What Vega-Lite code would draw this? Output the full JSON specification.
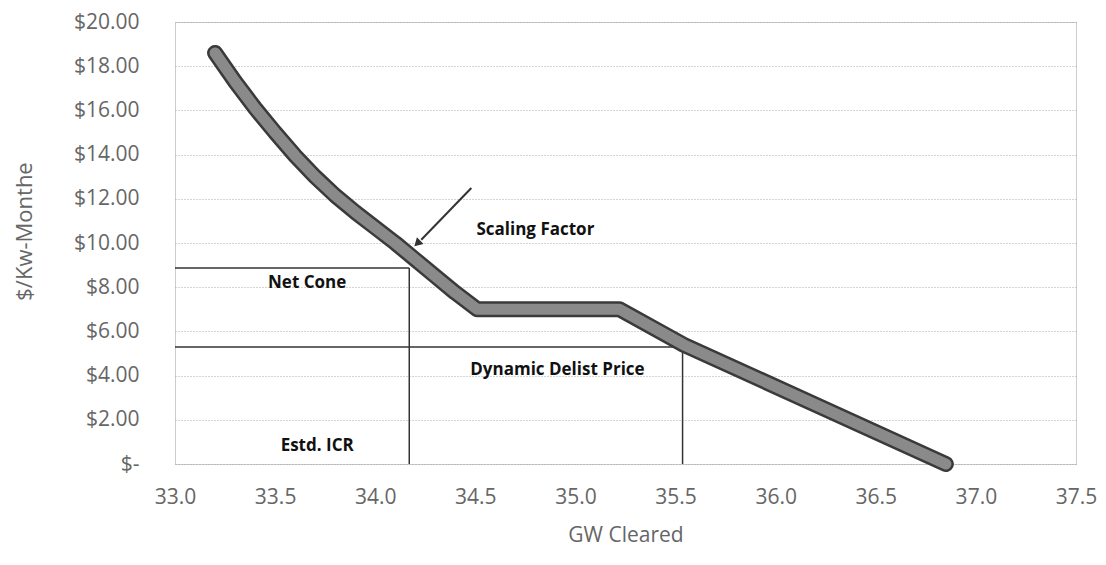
{
  "$schema": "https://vega.github.io/schema/vega-lite/v6.json",
  "width": 901,
  "height": 442,
  "autosize": {"type": "none"},
  "padding": {"left": 175, "top": 22, "right": 30, "bottom": 101},
  "background": "white",
  "config": {
    "view": {"stroke": "#9a9a9a", "strokeDash": [1, 1], "strokeWidth": 1},
    "font": "Open Sans"
  },
  "datasets": {
    "curve": [
      {"o": 1, "gw": 33.2, "p": 18.6},
      {"o": 2, "gw": 33.3, "p": 17.3},
      {"o": 3, "gw": 33.4, "p": 16.1},
      {"o": 4, "gw": 33.5, "p": 15.0},
      {"o": 5, "gw": 33.6, "p": 13.95},
      {"o": 6, "gw": 33.7, "p": 13.0},
      {"o": 7, "gw": 33.8, "p": 12.15},
      {"o": 8, "gw": 33.9, "p": 11.4},
      {"o": 9, "gw": 34.0, "p": 10.7},
      {"o": 10, "gw": 34.1, "p": 10.0},
      {"o": 11, "gw": 34.2, "p": 9.25},
      {"o": 12, "gw": 34.3, "p": 8.5},
      {"o": 13, "gw": 34.4, "p": 7.75},
      {"o": 14, "gw": 34.51, "p": 7.0},
      {"o": 15, "gw": 35.22, "p": 7.0},
      {"o": 16, "gw": 35.54, "p": 5.4},
      {"o": 17, "gw": 36.85, "p": 0.0}
    ],
    "refs": [
      {"x": 33.0, "y": 8.87, "x2": 34.17, "y2": 8.87},
      {"x": 34.17, "y": 0, "x2": 34.17, "y2": 8.87},
      {"x": 33.0, "y": 5.29, "x2": 35.535, "y2": 5.29},
      {"x": 35.535, "y": 0, "x2": 35.535, "y2": 5.29}
    ],
    "arrow": [
      {"x": 34.48, "y": 12.49, "x2": 34.23, "y2": 10.15}
    ],
    "arrowhead": [
      {"x": 34.215, "y": 10.02}
    ],
    "labels": [
      {"x": 34.80, "y": 10.59, "t": "Scaling Factor"},
      {"x": 33.66, "y": 8.19, "t": "Net Cone"},
      {"x": 34.91, "y": 4.25, "t": "Dynamic Delist Price"},
      {"x": 33.71, "y": 0.81, "t": "Estd. ICR"}
    ]
  },
  "encoding": {
    "x": {
      "type": "quantitative",
      "scale": {"domain": [33, 37.5], "nice": false, "zero": false},
      "axis": {
        "title": "GW Cleared",
        "values": [33, 33.5, 34, 34.5, 35, 35.5, 36, 36.5, 37, 37.5],
        "format": ".1f",
        "grid": false,
        "domain": false,
        "ticks": false,
        "labelFlush": false,
        "labelOverlap": false,
        "labelPadding": 22,
        "labelFontSize": 21,
        "labelColor": "#666666",
        "labelFont": "Open Sans",
        "titleFont": "Open Sans",
        "titleFontSize": 21,
        "titleFontWeight": "normal",
        "titleColor": "#666666",
        "titleBaseline": "middle",
        "titleY": 71
      }
    },
    "y": {
      "type": "quantitative",
      "scale": {"domain": [0, 20], "nice": false},
      "axis": {
        "title": "$/Kw-Monthe",
        "values": [0, 2, 4, 6, 8, 10, 12, 14, 16, 18, 20],
        "labelExpr": "datum.value == 0 ? '$-\u00a0\u00a0' : '$' + format(datum.value, '.2f')",
        "grid": true,
        "gridColor": "#a8a8a8",
        "gridDash": [1, 2],
        "gridWidth": 1,
        "domain": false,
        "ticks": false,
        "labelFlush": false,
        "labelOverlap": false,
        "labelPadding": 36,
        "labelFontSize": 21,
        "labelColor": "#666666",
        "labelFont": "Open Sans",
        "titleFont": "Open Sans",
        "titleFontSize": 22,
        "titleFontWeight": "normal",
        "titleColor": "#666666",
        "titleAngle": -90,
        "titleAlign": "center",
        "titleBaseline": "middle",
        "titleX": -151,
        "titleY": 209
      }
    }
  },
  "layer": [
    {
      "data": {"name": "refs"},
      "mark": {"type": "rule", "color": "#333333", "strokeWidth": 1.5},
      "encoding": {
        "x": {"field": "x", "type": "quantitative"},
        "y": {"field": "y", "type": "quantitative"},
        "x2": {"field": "x2"},
        "y2": {"field": "y2"}
      }
    },
    {
      "data": {"name": "curve"},
      "mark": {"type": "line", "color": "#3a3a3a", "strokeWidth": 16, "strokeCap": "round", "strokeJoin": "round"},
      "encoding": {
        "x": {"field": "gw", "type": "quantitative"},
        "y": {"field": "p", "type": "quantitative"},
        "order": {"field": "o", "type": "quantitative"}
      }
    },
    {
      "data": {"name": "curve"},
      "mark": {"type": "line", "color": "#8a8a8a", "strokeWidth": 11, "strokeCap": "round", "strokeJoin": "round"},
      "encoding": {
        "x": {"field": "gw", "type": "quantitative"},
        "y": {"field": "p", "type": "quantitative"},
        "order": {"field": "o", "type": "quantitative"}
      }
    },
    {
      "data": {"name": "arrow"},
      "mark": {"type": "rule", "color": "#333333", "strokeWidth": 2},
      "encoding": {
        "x": {"field": "x", "type": "quantitative"},
        "y": {"field": "y", "type": "quantitative"},
        "x2": {"field": "x2"},
        "y2": {"field": "y2"}
      }
    },
    {
      "data": {"name": "arrowhead"},
      "mark": {"type": "point", "shape": "triangle", "filled": true, "color": "#333333", "size": 90, "angle": 226, "opacity": 1},
      "encoding": {
        "x": {"field": "x", "type": "quantitative"},
        "y": {"field": "y", "type": "quantitative"}
      }
    },
    {
      "data": {"name": "labels"},
      "mark": {"type": "text", "font": "Open Sans", "fontWeight": "bold", "fontSize": 17, "color": "#111111", "align": "center", "baseline": "middle"},
      "encoding": {
        "x": {"field": "x", "type": "quantitative"},
        "y": {"field": "y", "type": "quantitative"},
        "text": {"field": "t"}
      }
    }
  ]
}
